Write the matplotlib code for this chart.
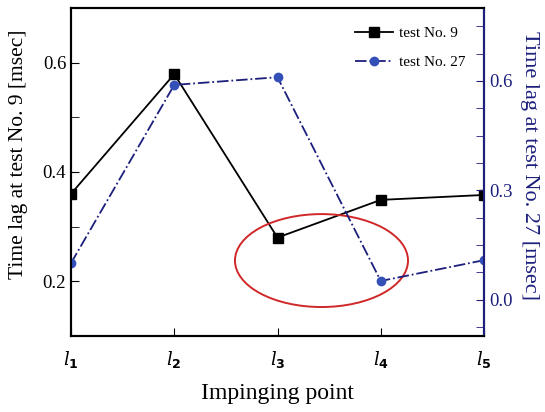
import matplotlib.pyplot as plt
from matplotlib.patches import Ellipse
from matplotlib.ticker import MultipleLocator

# data
points = [1, 2, 3, 4, 5]
point_labels = [r"$\mathit{l}_\mathbf{1}$", r"$\mathit{l}_\mathbf{2}$", r"$\mathit{l}_\mathbf{3}$",
                r"$\mathit{l}_\mathbf{4}$", r"$\mathit{l}_\mathbf{5}$"]
lag_test9 = [0.360, 0.579, 0.280, 0.349, 0.358]
lag_test27 = [0.100, 0.589, 0.610, 0.051, 0.108]

navy = "#1c1f7c"
blue = "#3350b8"
plt.rcParams["font.family"] = ["Liberation Serif", "DejaVu Serif"]
plt.rcParams["mathtext.fontset"] = "custom"
plt.rcParams["mathtext.it"] = "DejaVu Serif:italic"
plt.rcParams["mathtext.bf"] = "DejaVu Sans:bold"
plt.rcParams["mathtext.rm"] = "DejaVu Sans"

fig = plt.figure(figsize=(5.45, 4.12), dpi=100)
ax1 = fig.add_axes([71 / 545, 76 / 412, 413 / 545, 328 / 412])
ax1.plot(points, lag_test9, "-s", color="black", lw=1.3, ms=7, label="test No. 9")
ax1.set_xlim(1, 5)
ax1.set_ylim(0.1, 0.7)
ax1.yaxis.set_major_locator(MultipleLocator(0.2))
ax1.yaxis.set_minor_locator(MultipleLocator(0.1))
ax1.set_xticks(points)
ax1.set_xticklabels(point_labels)
ax1.tick_params(axis="both", which="both", direction="in", top=False, labelsize=13.5)
ax1.tick_params(axis="y", which="both", length=6)
ax1.tick_params(axis="x", length=6, pad=9, labelsize=13)
ax1.set_xlabel("Impinging point", fontsize=17, labelpad=10)
ax1.set_ylabel("Time lag at test No. 9 [msec]", fontsize=15.5)
ax1.yaxis.set_label_coords(-0.105, 0.555)
for s in ax1.spines.values():
    s.set_linewidth(1.5)

ax2 = ax1.twinx()
ax2.plot(points, lag_test27, "-.o", color=navy, mfc=blue, mec=blue, lw=1.3, ms=6,
         label="test No. 27")
ax2.set_ylim(-0.1, 0.8)
ax2.yaxis.set_major_locator(MultipleLocator(0.3))
ax2.yaxis.set_minor_locator(MultipleLocator(0.075))
ax2.tick_params(axis="y", which="both", direction="in", length=6, color=navy,
                labelcolor=navy, labelsize=13.5)
ax2.set_ylabel("Time lag at test No. 27 [msec]", fontsize=16, color=navy,
               rotation=270, va="center")
ax2.yaxis.set_label_coords(1.11, 0.52)
for s in ax2.spines.values():
    s.set_linewidth(1.5)
ax2.spines["right"].set_color(navy)

# highlight ellipse
ax2.add_patch(Ellipse((3.426, 0.238), 1.676, 0.170, transform=ax1.transData,
                      fill=False, edgecolor="#d02828", lw=1.4))

h1, l1 = ax1.get_legend_handles_labels()
h2, l2 = ax2.get_legend_handles_labels()
ax2.legend(h1 + h2, l1 + l2, loc="upper right", frameon=False, fontsize=11,
           handlelength=2.5, labelspacing=1.0, handletextpad=0.35,
           borderpad=0, borderaxespad=0,
           bbox_to_anchor=(465 / 545, 0.935), bbox_transform=fig.transFigure)

fig.savefig("out.png", dpi=100)
